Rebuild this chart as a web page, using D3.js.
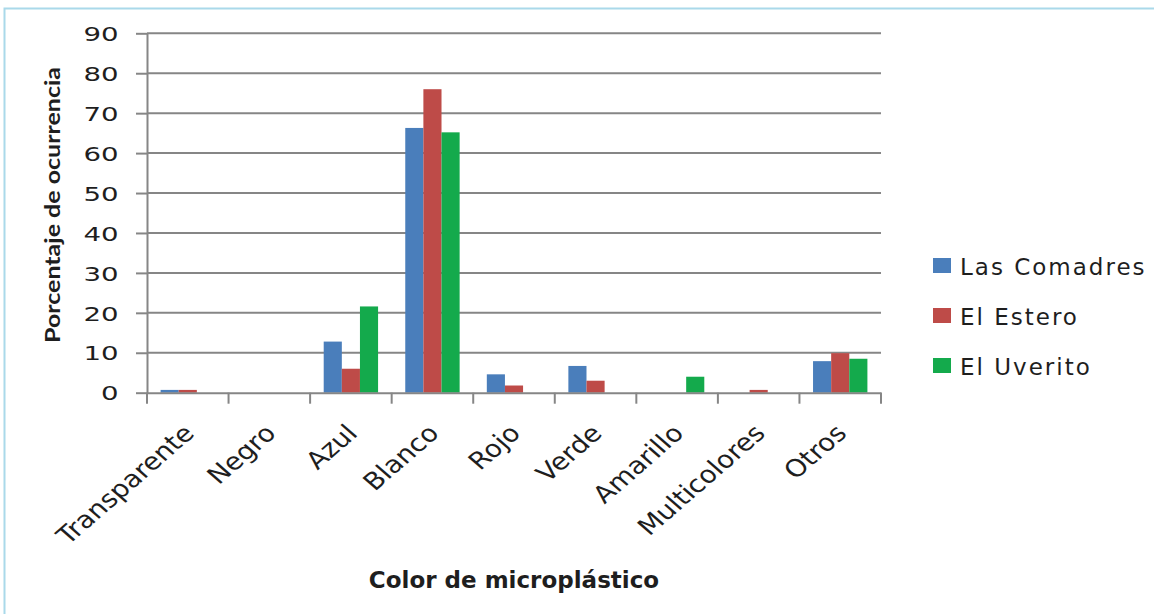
<!DOCTYPE html>
<html>
<head>
<meta charset="utf-8">
<script src="https://cdn.jsdelivr.net/npm/d3@7"></script>
<style>
  html, body { margin: 0; padding: 0; background: #ffffff; }
  svg { display: block; }
</style>
</head>
<body>
<svg id="chart" width="1154" height="614"></svg>
<script>
// Colour categories on the x axis
const categories = ["Transparente", "Negro", "Azul", "Blanco", "Rojo", "Verde", "Amarillo", "Multicolores", "Otros"];
// Sampling sites (one bar series each)
const seriesNames = ["Las Comadres", "El Estero", "El Uverito"];
// Percentage of occurrence per colour, per site
const lasComadres = [0.7, 0, 12.8, 66.3, 4.6, 6.7, 0, 0, 7.9];
const elEstero    = [0.7, 0, 6.0, 76.0, 1.8, 3.0, 0, 0.7, 9.9];
const elUverito   = [0, 0, 21.6, 65.2, 0, 0, 4.0, 0, 8.5];
// Value axis ticks
const yTicks = [0, 10, 20, 30, 40, 50, 60, 70, 80, 90];

const seriesValues = [lasComadres, elEstero, elUverito];
const seriesColors = ["#4a7ebb", "#be4b48", "#14aa4c"];

const svg = d3.select("#chart");
const W = 1154, H = 614;
const plot = { left: 147, right: 881, top: 33.3, bottom: 392.7 };
const gridColor = "#868686";
const textColor = "#1e1e1e";

// Outer frame (only the top and left edges fall inside the page)
svg.append("rect")
  .attr("x", 4.5).attr("y", 8.5)
  .attr("width", W + 20).attr("height", H + 20)
  .attr("fill", "none")
  .attr("stroke", "#aad9ea")
  .attr("stroke-width", 2);

const x = d3.scaleBand().domain(categories).range([plot.left, plot.right]).padding(0);
const xs = d3.scaleBand().domain(seriesNames).range([0, x.bandwidth()])
  .paddingInner(0).paddingOuter(0.75);
const y = d3.scaleLinear().domain([0, 90]).range([plot.bottom, plot.top]);

// Horizontal gridlines
svg.append("g").selectAll("line")
  .data(yTicks.filter(d => d > 0))
  .join("line")
  .attr("x1", plot.left).attr("x2", plot.right)
  .attr("y1", d => y(d)).attr("y2", d => y(d))
  .attr("stroke", gridColor).attr("stroke-width", 2);

// Bars
const rows = categories.map((c, i) => ({ cat: c, vals: seriesNames.map((s, k) => ({ s, k, v: seriesValues[k][i] })) }));
svg.append("g").selectAll("g")
  .data(rows)
  .join("g")
  .attr("transform", d => `translate(${x(d.cat)},0)`)
  .selectAll("rect")
  .data(d => d.vals.filter(e => e.v > 0))
  .join("rect")
  .attr("x", d => xs(d.s))
  .attr("width", xs.bandwidth())
  .attr("y", d => y(d.v))
  .attr("height", d => y(0) - y(d.v))
  .attr("fill", d => seriesColors[d.k]);

// Y axis
const yAxis = svg.append("g")
  .attr("transform", `translate(${plot.left},0)`)
  .call(d3.axisLeft(y).tickValues(yTicks).tickSize(11).tickSizeOuter(0));
yAxis.select(".domain").attr("stroke", gridColor).attr("stroke-width", 2);
yAxis.selectAll(".tick line").attr("stroke", gridColor).attr("stroke-width", 2);
yAxis.selectAll(".tick text")
  .attr("x", 0).attr("dy", "0.36em")
  .attr("transform", "translate(-28.5,0) scale(1.38,1)")
  .attr("font-family", "DejaVu Sans")
  .attr("font-size", 20)
  .attr("fill", textColor);

// X axis with category labels
const xAxis = svg.append("g")
  .attr("transform", `translate(0,${plot.bottom})`)
  .call(d3.axisBottom(x).tickSize(0).tickSizeOuter(0));
xAxis.select(".domain").attr("stroke", gridColor).attr("stroke-width", 2);
xAxis.selectAll(".tick text")
  .attr("x", 0).attr("y", 0).attr("dy", 0)
  .attr("text-anchor", "end")
  .attr("transform", "translate(8,42) scale(1.15,1) rotate(-45)")
  .attr("font-family", "DejaVu Sans")
  .attr("font-size", 24)
  .attr("fill", textColor);

// Tick marks on category boundaries
const bounds = categories.map(c => x(c)).concat([plot.right]);
svg.append("g").selectAll("line")
  .data(bounds)
  .join("line")
  .attr("x1", d => d).attr("x2", d => d)
  .attr("y1", plot.bottom).attr("y2", plot.bottom + 11)
  .attr("stroke", gridColor).attr("stroke-width", 2);

// Axis titles
svg.append("text")
  .attr("transform", `translate(60,205) rotate(-90)`)
  .attr("text-anchor", "middle")
  .attr("font-family", "Lato")
  .attr("font-weight", "bold")
  .attr("font-size", 21)
  .attr("textLength", 276)
  .attr("lengthAdjust", "spacingAndGlyphs")
  .attr("fill", textColor)
  .text("Porcentaje de ocurrencia");

svg.append("text")
  .attr("x", (plot.left + plot.right) / 2)
  .attr("y", 588)
  .attr("text-anchor", "middle")
  .attr("font-family", "DejaVu Sans")
  .attr("font-weight", "bold")
  .attr("font-size", 23)
  .attr("fill", textColor)
  .text("Color de microplástico");

// Legend
const legend = svg.append("g").attr("transform", "translate(933,258)");
const item = legend.selectAll("g")
  .data(seriesNames)
  .join("g")
  .attr("transform", (d, i) => `translate(0,${i * 50})`);
item.append("rect")
  .attr("width", 18).attr("height", 15)
  .attr("fill", (d, i) => seriesColors[i]);
item.append("text")
  .attr("x", 27).attr("y", 17)
  .attr("font-family", "DejaVu Sans")
  .attr("font-size", 23)
  .attr("letter-spacing", 2)
  .attr("fill", textColor)
  .text(d => d);
</script>
</body>
</html>
